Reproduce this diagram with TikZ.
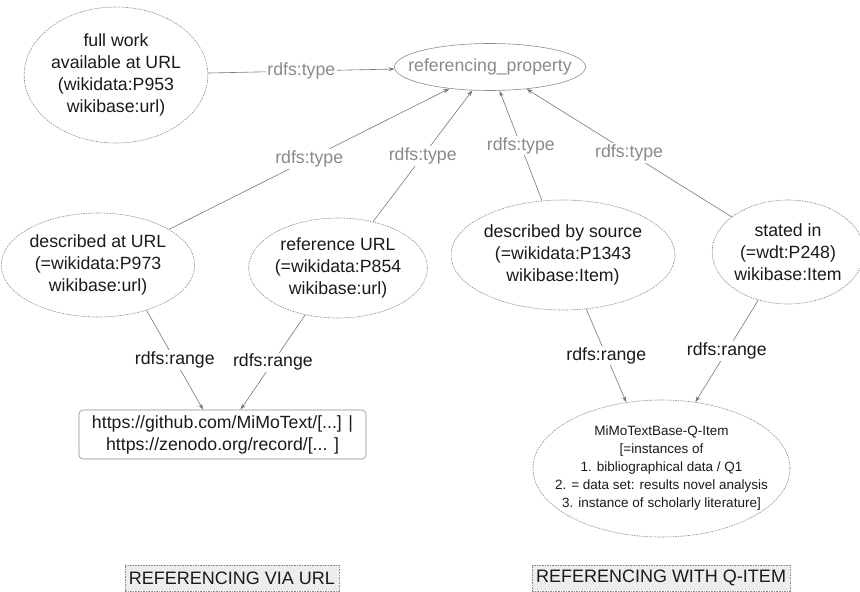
\documentclass[tikz,border=0pt]{standalone}
\usepackage{fontspec}
\setmainfont{Liberation Sans}
\usetikzlibrary{shapes.geometric,arrows.meta}

\definecolor{edgegray}{HTML}{777777}
\definecolor{labelgray}{HTML}{8A8A8A}
\definecolor{bordergray}{HTML}{8C8C8C}
\definecolor{inkdark}{HTML}{1A1A1A}
\definecolor{tagfill}{HTML}{EDEDED}

\begin{document}
\begin{tikzpicture}[x=1pt,y=-1pt,
  bigfont/.style={font=\fontsize{17.7}{22}\selectfont},
  prop/.style={ellipse, draw=bordergray, dash pattern=on 1.6pt off 1pt,
    line width=0.6pt, inner sep=0pt, align=center, text=inkdark, bigfont},
  conn/.style={draw=edgegray, line width=0.6pt,
    -{Stealth[length=6pt,width=4pt]}},
  typelbl/.style={fill=white, text=labelgray, inner sep=1.5pt, bigfont},
  rangelbl/.style={fill=white, text=inkdark, inner sep=1.5pt, bigfont},
  tag/.style={draw=bordergray, dash pattern=on 1.6pt off 1pt, line width=0.6pt,
    fill=tagfill, text=inkdark, inner xsep=4pt, minimum height=26,
    font=\fontsize{18}{20}\selectfont}
]
\useasboundingbox (0,0) rectangle (860,592);

% class node (text is allowed to reach the rim of the ellipse)
\node[ellipse, draw=bordergray, line width=0.6pt, inner ysep=0pt,
      inner xsep=-22pt, minimum width=191, minimum height=47,
      text=labelgray, bigfont]
  (rp) at (490,67) {referencing\_property};

% properties
\node[prop, minimum width=182, minimum height=136] (fw) at (116,75)
  {full work\\available at URL\\(wikidata:P953\\wikibase:url)};
\node[prop, minimum width=184, minimum height=104] (du) at (98,265)
  {described at URL\\(=wikidata:P973\\wikibase:url)};
\node[prop, minimum width=174, minimum height=100] (ru) at (338,268)
  {reference URL\\(=wikidata:P854\\wikibase:url)};
\node[prop, minimum width=214, minimum height=110] (ds) at (563,255)
  {described by source\\(=wikidata:P1343\\wikibase:Item)};
\node[prop, minimum width=144, minimum height=104] (si) at (788,252)
  {stated in\\(=wdt:P248)\\wikibase:Item};

% ranges
\node[draw=bordergray, line width=0.6pt, rounded corners=4pt,
      minimum width=287, minimum height=49, inner sep=2pt,
      align=center, text=inkdark, bigfont]
  (url) at (222.5,434.5)
  {https://github.com/MiMoText/[...] |\\https://zenodo.org/record/[... ]};
\node[prop, minimum width=257, minimum height=137, inner xsep=-28pt,
      font=\fontsize{13.5}{18}\selectfont] (qi) at (661.5,468.5)
  {MiMoTextBase-Q-Item\\{[}=instances of\\1. bibliographical data / Q1\\
   2. = data set: results novel analysis\\3. instance of scholarly literature]};

% section tags
\node[tag] (t1) at (232,578) {REFERENCING VIA URL};
\node[tag] (t2) at (661,578) {REFERENCING WITH Q-ITEM};

% rdfs:type connectors
\draw[conn] (fw) -- node[typelbl] {rdfs:type} (rp);
\draw[conn] (du) -- node[typelbl] {rdfs:type} (rp.208);
\draw[conn] (ru) -- node[typelbl] {rdfs:type} (rp.233);
\draw[conn] (ds) -- node[typelbl] {rdfs:type} (rp.292);
\draw[conn] (si) -- node[typelbl] {rdfs:type} (rp.329);

% rdfs:range connectors
\draw[conn] (du.-43) -- node[rangelbl] {rdfs:range} (url.128.5);
\draw[conn] (ru.235) -- node[rangelbl] {rdfs:range} (url.54.5);
\draw[conn] (ds) -- node[rangelbl] {rdfs:range} (qi.118);
\draw[conn] (si) -- node[rangelbl] {rdfs:range} (qi.63);
\end{tikzpicture}
\end{document}
